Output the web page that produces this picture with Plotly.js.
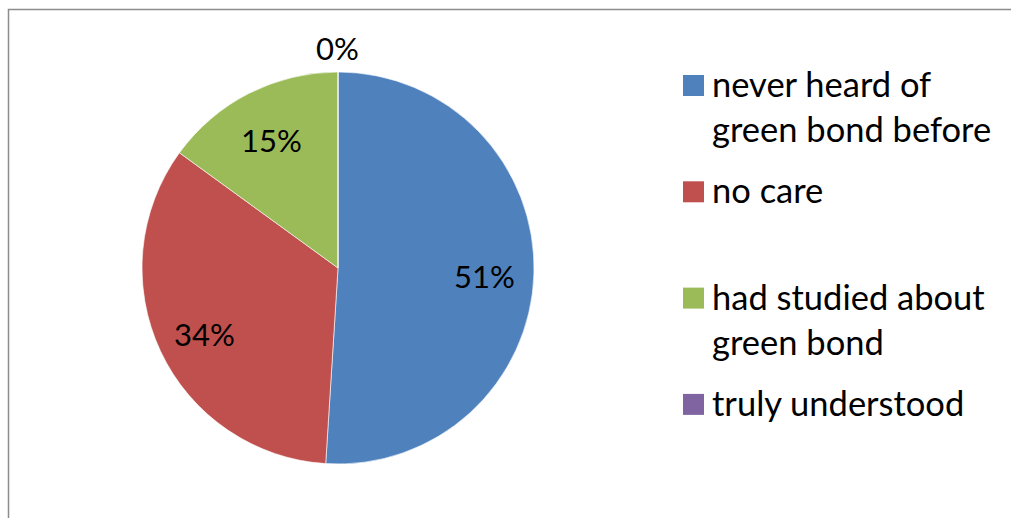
<!DOCTYPE html>
<html>
<head>
<meta charset="utf-8">
<script src="https://cdn.plot.ly/plotly-3.0.1.min.js"></script>
<style>
  html, body { margin: 0; padding: 0; background: #ffffff; }
  #chart { width: 1011px; height: 518px; }
</style>
</head>
<body>
<div id="chart"></div>
<script>
// ---- data ----
const categories = [
  "never heard of\ngreen bond before",
  "no care",
  "had studied about\ngreen bond",
  "truly understood"
];
const shares = [51, 34, 15, 0];
const percentLabels = ["51%", "34%", "15%", "0%"];
const sliceColors = ["#4F81BD", "#C0504D", "#9BBB59", "#8064A2"];

const FONT = "Lato, 'Open Sans', sans-serif";
const W = 1011, H = 518;
const CX = 338, CY = 268, R = 196;   // pie centre / radius in pixels

const pie = {
  type: "pie",
  values: shares,
  labels: categories.map(c => c.replace("\n", " ")),
  textinfo: "none",
  sort: false,
  direction: "clockwise",
  rotation: 0,
  marker: { colors: sliceColors, line: { color: "#ffffff", width: 0.6 } },
  domain: { x: [(CX - R) / W, (CX + R) / W], y: [(H - CY - R) / H, (H - CY + R) / H] },
  showlegend: false,
  hoverinfo: "label+percent"
};

const annotations = [];
const shapes = [];

// percentage labels positioned along each slice's mid-angle
const total = shares.reduce((a, b) => a + b, 0);
let cum = 0;
shares.forEach((v, i) => {
  const mid = (cum + v / 2) / total * 2 * Math.PI;
  cum += v;
  const rr = v === 0 ? R + 27 : 0.75 * R;
  const px = CX + rr * Math.sin(mid);
  const py = CY - rr * Math.cos(mid) + 3;
  annotations.push({
    xref: "paper", yref: "paper", x: px / W, y: 1 - py / H,
    xanchor: "center", yanchor: "middle", showarrow: false,
    text: percentLabels[i], font: { family: FONT, size: 31, color: "#000000" }
  });
});

// custom legend built from the arrays
const firstCenter = 85.5, slot = 106.3, lineH = 45;
categories.forEach((cat, i) => {
  const cy = firstCenter + i * slot;
  shapes.push({
    type: "rect", xref: "paper", yref: "paper",
    x0: 683 / W, x1: 704 / W, y0: 1 - (cy - 10.5) / H, y1: 1 - (cy + 10.5) / H,
    fillcolor: sliceColors[i], line: { width: 0 }
  });
  cat.split("\n").forEach((line, j) => {
    annotations.push({
      xref: "paper", yref: "paper", x: 710 / W, y: 1 - (cy - 2 + j * lineH) / H,
      xanchor: "left", yanchor: "middle", showarrow: false,
      text: line, font: { family: FONT, size: 34.5, color: "#000000" }
    });
  });
});

// chart frame (partially visible)
shapes.push({
  type: "path", xref: "paper", yref: "paper",
  path: `M ${8.5 / W} 0 L ${8.5 / W} ${1 - 9.5 / H} L 1 ${1 - 9.5 / H}`,
  line: { color: "#8c8c8c", width: 1.5 }
});

const layout = {
  width: W, height: H,
  margin: { l: 0, r: 0, t: 0, b: 0 },
  paper_bgcolor: "#ffffff",
  font: { family: FONT },
  showlegend: false,
  annotations: annotations,
  shapes: shapes
};

Plotly.newPlot("chart", [pie], layout, { displayModeBar: false, staticPlot: true });
</script>
</body>
</html>
